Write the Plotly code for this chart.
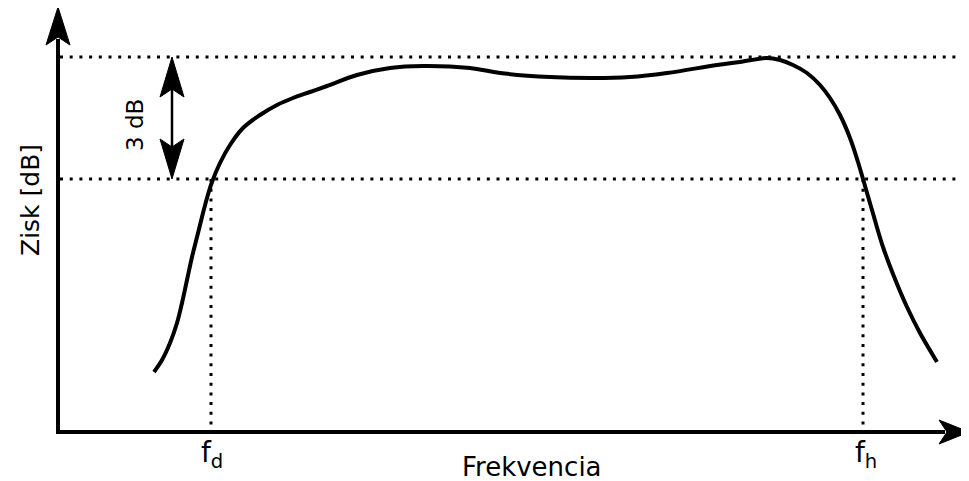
import plotly.graph_objects as go

# ---- data (x: frequency units, y: gain units; origin at axes crossing) ----
curve_x = [96, 104, 112, 119, 124, 129, 134, 139, 144, 149, 154, 162, 172, 185, 202,
           219, 235, 252, 269, 299, 332, 365, 412, 442, 492, 535, 572, 609, 659, 682,
           709, 722, 735, 749, 762, 772, 782, 792, 800, 805, 814, 825, 837, 849, 862, 879]
curve_y = [60, 72, 89, 109, 129, 152, 175, 195, 215, 234, 250, 269, 287, 304, 317,
           327, 334, 340, 346, 357, 364, 366, 364, 359, 355, 354, 355, 359, 367, 370,
           374, 372, 367, 359, 347, 334, 317, 294, 270, 253, 222, 185, 153, 125, 99, 70]

gain_max = 375      # level of the maximum (upper dotted line)
gain_3db = 253      # level 3 dB below the maximum
f_d = 153           # lower cut-off frequency
f_h = 805           # upper cut-off frequency
freq_axis_end = 911
gain_axis_end = 425
db_arrow_x = 114

FONT = "DejaVu Sans"

fig = go.Figure()

# main curve
fig.add_trace(go.Scatter(x=curve_x, y=curve_y, mode="lines",
                         line=dict(color="black", width=4, shape="spline", smoothing=1.0),
                         hoverinfo="skip", showlegend=False))

dot = dict(color="black", width=3, dash="3px,6.7px")
shapes = []
# horizontal dotted lines
shapes.append(dict(type="line", x0=2, x1=freq_axis_end, y0=gain_max, y1=gain_max, line=dot))
shapes.append(dict(type="line", x0=2, x1=freq_axis_end, y0=gain_3db, y1=gain_3db, line=dot))
# vertical dotted lines
for fx in (f_d, f_h):
    shapes.append(dict(type="line", x0=fx, x1=fx, y0=gain_3db, y1=6, line=dot))

# axes lines
shapes.append(dict(type="line", x0=0, x1=freq_axis_end - 24, y0=0, y1=0,
                   line=dict(color="black", width=4)))
shapes.append(dict(type="line", x0=0, x1=0, y0=-2, y1=gain_axis_end - 32,
                   line=dict(color="black", width=4)))


def head(tx, ty, dx, dy, length=38, half=12, notch=8):
    # arrowhead with tip at (tx,ty) pointing in direction (dx,dy)
    px, py = -dy, dx
    bx, by = tx - dx * length, ty - dy * length
    nx, ny = tx - dx * (length - notch), ty - dy * (length - notch)
    path = (f"M {tx},{ty} L {bx + px * half},{by + py * half} "
            f"L {nx},{ny} L {bx - px * half},{by - py * half} Z")
    return dict(type="path", path=path, fillcolor="black",
                line=dict(color="black", width=1))


shapes.append(head(0, gain_axis_end, 0, 1))
shapes.append(head(freq_axis_end, 0, 1, 0, length=30))
# 3 dB double arrow
shapes.append(dict(type="line", x0=db_arrow_x, x1=db_arrow_x, y0=gain_3db + 30, y1=gain_max - 30,
                   line=dict(color="black", width=2.5)))
shapes.append(head(db_arrow_x, gain_max, 0, 1, length=40))
shapes.append(head(db_arrow_x, gain_3db, 0, -1, length=40))

annotations = [
    dict(x=474, y=-35, text="Frekvencia", showarrow=False,
         font=dict(family=FONT, size=26, color="black")),
    dict(x=-28, y=232, text="Zisk [dB]", textangle=-90, showarrow=False,
         font=dict(family=FONT, size=25, color="black")),
    dict(x=77, y=307, text="3 dB", textangle=-90, showarrow=False,
         font=dict(family=FONT, size=23, color="black")),
    dict(x=f_d + 1, y=-22, text="f<sub>d</sub>", showarrow=False,
         font=dict(family=FONT, size=28, color="black")),
    dict(x=f_h + 3, y=-22, text="f<sub>h</sub>", showarrow=False,
         font=dict(family=FONT, size=28, color="black")),
]

# the page body has an 8px margin, so the figure is shifted by 8px; ranges compensate
fig.update_layout(
    width=961, height=473,
    margin=dict(l=0, r=0, t=0, b=0),
    paper_bgcolor="white", plot_bgcolor="white",
    xaxis=dict(range=[-50, 911], visible=False, fixedrange=True),
    yaxis=dict(range=[-49, 424], visible=False, fixedrange=True),
    shapes=shapes, annotations=annotations,
    showlegend=False,
)

fig.write_html("out.html")
